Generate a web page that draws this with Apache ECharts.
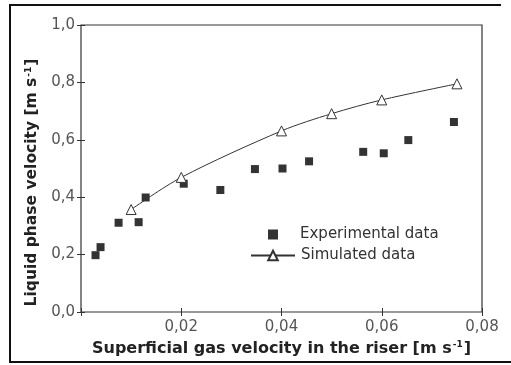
<!DOCTYPE html>
<html>
<head>
<meta charset="utf-8">
<script src="https://cdn.jsdelivr.net/npm/echarts@6/dist/echarts.min.js"></script>
<style>
html,body{margin:0;padding:0;background:#fff;}
#c{width:511px;height:365px;}
</style>
</head>
<body>
<div id="c"></div>
<script>
var expX = [0.0029, 0.0039, 0.0075, 0.0115, 0.0129, 0.0205, 0.0278, 0.0347, 0.0402, 0.0455, 0.0563, 0.0604, 0.0653, 0.0744];
var expY = [0.198, 0.226, 0.311, 0.313, 0.399, 0.447, 0.425, 0.498, 0.500, 0.525, 0.558, 0.553, 0.599, 0.662];
var simX = [0.01, 0.02, 0.04, 0.05, 0.06, 0.075];
var simY = [0.357, 0.469, 0.631, 0.691, 0.739, 0.795];
var xTicks = {min: 0, max: 0.08, interval: 0.02};
var yTicks = {min: 0, max: 1.0, interval: 0.2};

function pairs(xs, ys){ return xs.map(function(x,i){return [x, ys[i]];}); }
function comma(v, d){ return v.toFixed(d).replace('.', ','); }

var chart = echarts.init(document.getElementById('c'), null, {renderer:'canvas'});
var fontFam = 'DejaVu Sans, Arial, sans-serif';
var tick = {show:true, inside:true, length:4, lineStyle:{color:'#333', width:1}};
function nameRich(sz){
  return {
    a:{fontSize:sz, fontWeight:'bold', color:'#222', fontFamily:fontFam},
    s:{fontSize:9, fontWeight:'bold', color:'#222', verticalAlign:'top', padding:[0,1,8,1], fontFamily:fontFam}
  };
}
chart.setOption({
  animation:false,
  textStyle:{fontFamily:fontFam},
  graphic:[
    {type:'line', shape:{x1:10, y1:5, x2:501, y2:5}, style:{stroke:'#111', lineWidth:2}},
    {type:'line', shape:{x1:10, y1:4, x2:10, y2:363}, style:{stroke:'#111', lineWidth:2}},
    {type:'line', shape:{x1:9, y1:362, x2:511, y2:362}, style:{stroke:'#111', lineWidth:2}}
  ],
  grid:{left:81, right:29, top:25, bottom:53, show:true, borderColor:'#333', borderWidth:1.2, backgroundColor:'transparent'},
  xAxis:[{
    type:'value', min:xTicks.min, max:xTicks.max, interval:xTicks.interval,
    axisLine:{show:false}, splitLine:{show:false}, axisTick:tick,
    axisLabel:{color:'#555', fontSize:15, margin:8, fontFamily:fontFam,
      formatter:function(v){ return v===0 ? '' : comma(v,2); }},
    name:'{a|Superficial gas velocity in the riser [m s}{s|-1}{a|]}', nameLocation:'middle', nameGap:27,
    nameTextStyle:{rich:nameRich(16)}
  },{
    type:'value', position:'top', min:xTicks.min, max:xTicks.max, interval:xTicks.interval,
    axisLine:{show:false}, splitLine:{show:false}, axisTick:tick, axisLabel:{show:false}
  }],
  yAxis:[{
    type:'value', min:yTicks.min, max:yTicks.max, interval:yTicks.interval,
    axisLine:{show:false}, splitLine:{show:false}, axisTick:tick,
    axisLabel:{color:'#555', fontSize:15, margin:6, fontFamily:fontFam,
      formatter:function(v){ return comma(v,1); }},
    name:'{a|Liquid phase velocity [m s}{s|-1}{a|]}', nameLocation:'middle', nameGap:40, nameRotate:90,
    nameTextStyle:{rich:nameRich(15.5), padding:[0,28,0,0]}
  },{
    type:'value', position:'right', min:yTicks.min, max:yTicks.max, interval:yTicks.interval,
    axisLine:{show:false}, splitLine:{show:false}, axisTick:tick, axisLabel:{show:false}
  }],
  legend:[{
    data:['Experimental data'], left:263, top:222, itemWidth:10, itemHeight:10, itemGap:0,
    textStyle:{fontSize:15, color:'#333', fontFamily:fontFam, padding:[0,0,0,17]}
  },{
    data:['Simulated data'], left:245, top:243, itemWidth:44, itemHeight:12,
    textStyle:{fontSize:15, color:'#333', fontFamily:fontFam, padding:[0,0,0,1]}
  }],
  series:[{
    name:'Experimental data', type:'scatter', symbol:'rect', symbolSize:8,
    itemStyle:{color:'#000'}, data:pairs(expX, expY), z:3
  },{
    name:'Simulated data', type:'line', smooth:0.3, symbol:'triangle', symbolSize:10,
    lineStyle:{color:'#333', width:1}, itemStyle:{color:'#fff', borderColor:'#333', borderWidth:1},
    data:pairs(simX, simY), z:4
  }]
});
</script>
</body>
</html>
